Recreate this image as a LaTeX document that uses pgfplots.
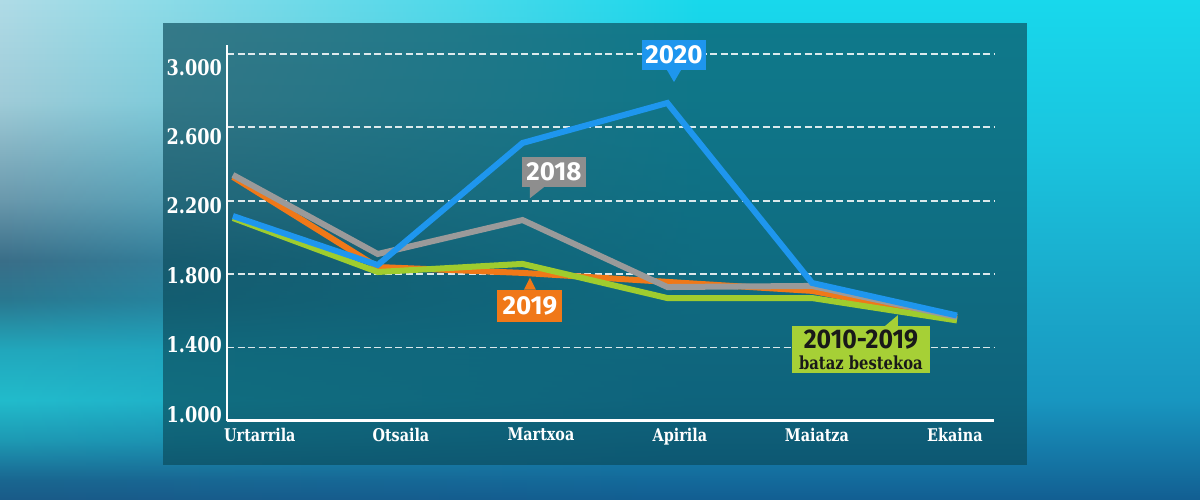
\documentclass[border=0pt]{standalone}
\usepackage{pgfplots}
\pgfplotsset{compat=1.18}
\usepackage{fontspec}
\usetikzlibrary{fadings}
\newfontfamily\slab{DejaVu Serif}[FakeStretch=0.82]
\newfontfamily\boxfont{Fira Sans}
\newfontfamily\boxcond{Fira Sans}[FakeStretch=0.92]

\definecolor{c2020}{HTML}{1E96EE}
\definecolor{c2018}{HTML}{9A9A9A}
\definecolor{c2019}{HTML}{F07818}
\definecolor{cavg}{HTML}{9FCC2E}
\definecolor{bavg}{HTML}{A6D036}
\definecolor{b2018}{HTML}{8E8E8E}
\definecolor{panelc}{HTML}{0A4A5A}

\definecolor{ra}{HTML}{125E92}
\definecolor{rb}{HTML}{1470A0}
\definecolor{rc}{HTML}{1896C0}
\definecolor{rd}{HTML}{1AA8CA}
\definecolor{re}{HTML}{1AC4DE}
\definecolor{rf}{HTML}{18D8EC}
\definecolor{la}{HTML}{1A5A88}
\definecolor{lb}{HTML}{1A6690}
\definecolor{lc}{HTML}{1E9AB4}
\definecolor{ld}{HTML}{22BCCC}
\definecolor{le}{HTML}{22A8BC}
\definecolor{lf}{HTML}{2A7890}
\definecolor{lg}{HTML}{3A6E88}
\definecolor{lh}{HTML}{6A98AC}
\definecolor{li}{HTML}{A0CCD8}
\definecolor{lj}{HTML}{B0DCE6}

\pgfdeclareverticalshading{rightbg}{100bp}{%
  color(0bp)=(ra);
  color(25bp)=(ra);
  color(28bp)=(rb);
  color(35bp)=(rc);
  color(45bp)=(rd);
  color(60bp)=(re);
  color(75bp)=(rf);
  color(100bp)=(rf)}
\pgfdeclareverticalshading{leftbg}{100bp}{%
  color(0bp)=(la);
  color(25bp)=(la);
  color(27bp)=(lb);
  color(31bp)=(lc);
  color(35bp)=(ld);
  color(40bp)=(le);
  color(45bp)=(lf);
  color(49bp)=(lg);
  color(55bp)=(lh);
  color(65bp)=(li);
  color(75bp)=(lj);
  color(100bp)=(lj)}
\tikzfading[name=fadeeast, left color=transparent!0, right color=transparent!100]

\begin{document}
\begin{tikzpicture}
\shade[shading=rightbg] (0pt,0pt) rectangle (1200pt,500pt);
\shade[shading=leftbg, path fading=fadeeast] (0pt,0pt) rectangle (700pt,500pt);
\fill[panelc, opacity=0.66] (163pt,35pt) rectangle (1027pt,477pt);
\begin{axis}[
  at={(227pt,79pt)}, anchor=south west, scale only axis,
  width=767pt, height=376pt,
  xmin=-0.041, xmax=5.256, ymin=1000, ymax=3049,
  axis x line*=bottom, axis y line*=left,
  x axis line style={white, line width=3pt},
  y axis line style={white, line width=2.2pt},
  xtick={0.186,1.160,2.127,3.087,4.033,4.986},
  xticklabels={Urtarrila,Otsaila,Martxoa,Apirila,Maiatza,Ekaina},
  ytick={1033,1414,1790,2172,2548,2924},
  yticklabels={1.000,1.400,1.800,2.200,2.600,3.000},
  major tick length=0pt,
  extra y ticks={1400,1800,2200,2600,3000},
  extra y tick labels={},
  extra y tick style={grid=major, major tick length=0pt},
  major grid style={white, opacity=0.85, line width=1.8pt, dash pattern=on 7pt off 3.5pt},
  yticklabel style={font={\slab\bfseries\fontsize{21.5}{21.5}\selectfont}, text=white, anchor=east, inner sep=0pt, xshift=-5pt},
  xticklabel style={font={\slab\bfseries\fontsize{17.5}{17.5}\selectfont}, text=white, anchor=north, inner sep=0pt, yshift=-7pt},
  clip=false,
  every axis plot/.append style={line width=6pt, no markers},
]
% 2019
\addplot[c2019] coordinates {(0,2330) (1,1839) (2,1807) (3,1758) (4,1709) (5,1555)};
% 2010-2019 average
\addplot[cavg] coordinates {(0,2106) (1,1812) (2,1856) (3,1670) (4,1670) (5,1548)};
% 2018
\addplot[c2018] coordinates {(0,2341) (1,1910) (2,2095) (3,1730) (4,1736) (5,1567)};
% 2020
\addplot[c2020] coordinates {(0,2117) (1,1850) (2,2515) (3,2733) (4,1752) (5,1575)};

% labels
\node[fill=c2020, text=white, font={\boxfont\bfseries\fontsize{26}{26}\selectfont}, minimum width=64pt, minimum height=30pt, inner sep=0pt] (b20) at (axis cs:3.046,2995) {2020};
\fill[c2020] ([xshift=-7pt]b20.south) -- ([yshift=-12pt]b20.south) -- ([xshift=7pt]b20.south) -- cycle;

\node[fill=b2018, text=white, font={\boxfont\bfseries\fontsize{26}{26}\selectfont}, minimum width=64pt, minimum height=30pt, inner sep=0pt] (b18) at (axis cs:2.217,2357) {2018};
\fill[b2018] ([xshift=-24pt]b18.south) -- ([xshift=-24pt,yshift=-11pt]b18.south) -- ([xshift=-10pt]b18.south) -- cycle;

\node[fill=c2019, text=white, font={\boxfont\bfseries\fontsize{26}{26}\selectfont}, minimum width=65pt, minimum height=32pt, inner sep=0pt] (b19) at (axis cs:2.051,1627) {2019};
\fill[c2019] ([xshift=-6pt]b19.north) -- ([yshift=12pt]b19.north) -- ([xshift=6pt]b19.north) -- cycle;

\node[fill=bavg, text=black!90, minimum width=138pt, minimum height=47pt, inner xsep=0pt, inner ysep=0pt, align=center] (bav) at (axis cs:4.337,1388)
  {{\boxcond\bfseries\fontsize{27}{27}\selectfont 2010-2019}\\[5pt]{\slab\bfseries\fontsize{18}{18}\selectfont bataz bestekoa}};
\fill[bavg] ([xshift=24pt]bav.north) -- ([xshift=37pt,yshift=11pt]bav.north) -- ([xshift=37pt]bav.north) -- cycle;
\end{axis}
\end{tikzpicture}
\end{document}
